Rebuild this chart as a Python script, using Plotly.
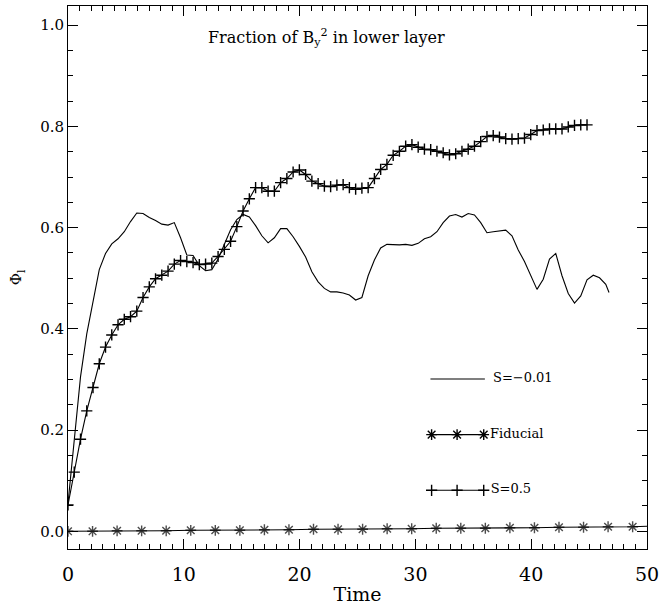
import plotly.graph_objects as go

# ---------------- data ----------------
t_fid = [0.00, 2.12, 4.24, 6.36, 8.48, 10.60, 12.72, 14.84, 16.96, 19.08, 21.20, 23.32,
         25.44, 27.56, 29.68, 31.80, 33.92, 36.04, 38.16, 40.28, 42.40, 44.52, 46.64, 48.76, 50.00]
phi_fid = [0.000, 0.000, 0.001, 0.001, 0.001, 0.002, 0.002, 0.002, 0.003, 0.003, 0.004, 0.004,
           0.004, 0.005, 0.005, 0.006, 0.006, 0.006, 0.007, 0.007, 0.008, 0.008, 0.009, 0.009, 0.010]
fid_marker_size = [9] * 24 + [0]

t_s05 = [0.00, 0.54, 1.08, 1.62, 2.16, 2.70, 3.24, 3.78, 4.32, 4.86, 5.40, 5.94, 6.48, 7.02,
         7.56, 8.10, 8.64, 9.18, 9.72, 10.26, 10.80, 11.34, 11.88, 12.42, 12.96, 13.50, 14.04,
         14.58, 15.12, 15.66, 16.20, 16.74, 17.28, 17.82, 18.36, 18.90, 19.44, 19.98, 20.52,
         21.06, 21.60, 22.14, 22.68, 23.22, 23.76, 24.30, 24.84, 25.38, 25.92, 26.46, 27.00,
         27.54, 28.08, 28.62, 29.16, 29.70, 30.24, 30.78, 31.32, 31.86, 32.40, 32.94, 33.48,
         34.02, 34.56, 35.10, 35.64, 36.18, 36.72, 37.26, 37.80, 38.34, 38.88, 39.42, 39.96,
         40.50, 41.04, 41.58, 42.12, 42.66, 43.20, 43.74, 44.28, 44.82]
phi_s05 = [0.052, 0.117, 0.182, 0.238, 0.284, 0.331, 0.364, 0.388, 0.408, 0.419, 0.424, 0.435,
           0.462, 0.483, 0.499, 0.506, 0.514, 0.528, 0.535, 0.533, 0.531, 0.527, 0.528, 0.530,
           0.543, 0.557, 0.573, 0.602, 0.633, 0.657, 0.679, 0.679, 0.672, 0.672, 0.689, 0.697,
           0.710, 0.714, 0.705, 0.692, 0.687, 0.682, 0.681, 0.684, 0.685, 0.679, 0.676, 0.678,
           0.679, 0.697, 0.715, 0.725, 0.743, 0.751, 0.761, 0.764, 0.759, 0.755, 0.754, 0.751,
           0.748, 0.744, 0.746, 0.751, 0.755, 0.761, 0.770, 0.780, 0.782, 0.779, 0.776, 0.775,
           0.776, 0.777, 0.784, 0.792, 0.793, 0.795, 0.795, 0.795, 0.799, 0.802, 0.803, 0.803]

t_sm = [0.00, 0.54, 1.08, 1.62, 2.16, 2.70, 3.24, 3.78, 4.32, 4.86, 5.40, 5.94, 6.48, 7.02,
        7.56, 8.10, 8.64, 9.18, 9.72, 10.26, 10.80, 11.34, 11.88, 12.42, 12.96, 13.50, 14.04,
        14.58, 15.12, 15.66, 16.20, 16.74, 17.28, 17.82, 18.36, 18.90, 19.44, 19.98, 20.52,
        21.06, 21.60, 22.14, 22.68, 23.22, 23.76, 24.30, 24.84, 25.38, 25.92, 26.46, 27.00,
        27.54, 28.08, 28.62, 29.16, 29.70, 30.24, 30.78, 31.32, 31.86, 32.40, 32.94, 33.48,
        34.02, 34.56, 35.10, 35.64, 36.18, 36.72, 37.26, 37.80, 38.34, 38.88, 39.42, 39.96,
        40.50, 41.04, 41.58, 42.12, 42.66, 43.20, 43.74, 44.28, 44.82, 45.36, 45.90, 46.44, 46.72]
phi_sm = [0.055, 0.180, 0.305, 0.390, 0.453, 0.517, 0.549, 0.568, 0.578, 0.592, 0.612, 0.629,
          0.628, 0.620, 0.614, 0.607, 0.605, 0.610, 0.580, 0.546, 0.545, 0.525, 0.515, 0.517,
          0.538, 0.566, 0.596, 0.616, 0.626, 0.621, 0.604, 0.584, 0.570, 0.580, 0.598, 0.598,
          0.582, 0.563, 0.542, 0.513, 0.493, 0.480, 0.473, 0.473, 0.471, 0.467, 0.457, 0.462,
          0.505, 0.536, 0.560, 0.567, 0.566, 0.566, 0.567, 0.565, 0.569, 0.578, 0.582, 0.592,
          0.610, 0.623, 0.626, 0.621, 0.628, 0.625, 0.610, 0.590, 0.592, 0.593, 0.595, 0.584,
          0.556, 0.533, 0.505, 0.478, 0.498, 0.538, 0.549, 0.505, 0.470, 0.451, 0.465, 0.497,
          0.506, 0.501, 0.488, 0.472]

# in-plot legend samples (data coordinates)
leg_line_t = [31.3, 36.0]
leg_sm_y = [0.301, 0.301]
leg_mark_t = [31.4, 33.6, 35.9]
leg_fid_y = [0.191, 0.191, 0.191]
leg_s05_y = [0.081, 0.081, 0.081]
leg_labels = ["S=\u22120.01", "Fiducial", "S=0.5"]
leg_label_t = [36.7, 36.45, 36.5]
leg_label_y = [0.301, 0.191, 0.083]

title_text = "Fraction of B<sub>y</sub><sup>2</sup> in lower layer"

SERIF = "DejaVu Serif, Liberation Serif, serif"
BLACK = "black"

fig = go.Figure()

fig.add_trace(go.Scatter(x=t_sm, y=phi_sm, mode="lines",
                         line=dict(color=BLACK, width=1.1), showlegend=False))
fig.add_trace(go.Scatter(x=t_s05, y=phi_s05, mode="lines+markers",
                         line=dict(color=BLACK, width=1.1),
                         marker=dict(symbol="cross-thin-open", size=8,
                                     line=dict(color=BLACK, width=1.4)),
                         showlegend=False))
fig.add_trace(go.Scatter(x=t_fid, y=phi_fid, mode="lines+markers",
                         line=dict(color=BLACK, width=1.1),
                         marker=dict(symbol="asterisk-open", size=fid_marker_size,
                                     line=dict(color=BLACK, width=1.4)),
                         showlegend=False))

# legend samples
fig.add_trace(go.Scatter(x=leg_line_t, y=leg_sm_y, mode="lines",
                         line=dict(color=BLACK, width=1.1), showlegend=False))
fig.add_trace(go.Scatter(x=leg_mark_t, y=leg_fid_y, mode="lines+markers",
                         line=dict(color=BLACK, width=1.1),
                         marker=dict(symbol="asterisk-open", size=9,
                                     line=dict(color=BLACK, width=1.4)),
                         showlegend=False))
fig.add_trace(go.Scatter(x=leg_mark_t, y=leg_s05_y, mode="lines+markers",
                         line=dict(color=BLACK, width=1.1),
                         marker=dict(symbol="cross-thin-open", size=8,
                                     line=dict(color=BLACK, width=1.4)),
                         showlegend=False))
fig.add_trace(go.Scatter(x=leg_label_t, y=leg_label_y, mode="text", text=leg_labels,
                         textposition="middle right",
                         textfont=dict(family=SERIF, size=13, color=BLACK),
                         showlegend=False))

fig.add_annotation(x=22.3, y=0.975, xref="x", yref="y", text=title_text,
                   showarrow=False, font=dict(family=SERIF, size=16, color=BLACK))

axis_common = dict(showgrid=False, zeroline=False, showline=True, linecolor=BLACK,
                   linewidth=1, mirror="ticks", ticks="inside", tickcolor=BLACK,
                   tickwidth=1)

fig.update_xaxes(range=[0, 50], dtick=10, tick0=0, ticklen=10,
                 ticklabelstandoff=8,
                 tickfont=dict(family=SERIF, size=19, color=BLACK),
                 title=dict(text="Time", font=dict(family=SERIF, size=19, color=BLACK),
                            standoff=3),
                 minor=dict(dtick=1, ticklen=5, ticks="inside", tickcolor=BLACK,
                            tickwidth=1),
                 **axis_common)
fig.update_yaxes(range=[-0.035, 1.038], dtick=0.2, tick0=0, ticklen=10,
                 tickformat=".1f",
                 tickfont=dict(family=SERIF, size=15, color=BLACK),
                 title=dict(text="\u03a6<sub>l</sub>",
                            font=dict(family=SERIF, size=15, color=BLACK), standoff=14),
                 minor=dict(dtick=0.05, ticklen=5, ticks="inside", tickcolor=BLACK,
                            tickwidth=1),
                 **axis_common)

fig.update_layout(width=664, height=606, autosize=False,
                  margin=dict(l=68, r=13, t=5, b=54),
                  plot_bgcolor="white", paper_bgcolor="white",
                  showlegend=False)

fig.write_html("out.html")
